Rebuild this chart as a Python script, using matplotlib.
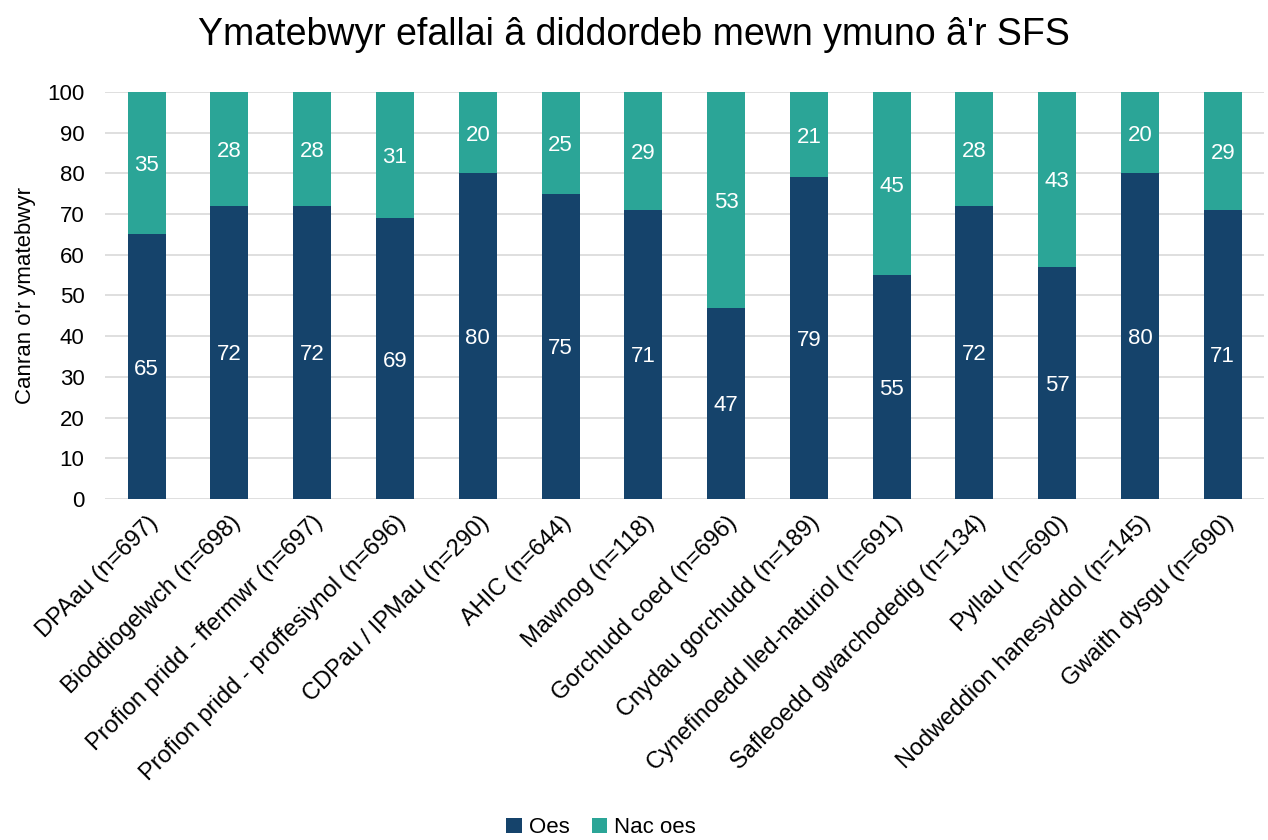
import matplotlib.pyplot as plt
import numpy as np

plt.rcParams['font.family'] = ['Liberation Sans', 'DejaVu Sans']

categories = ['DPAau (n=697)', 'Bioddiogelwch (n=698)', 'Profion pridd - ffermwr (n=697)',
              'Profion pridd - proffesiynol (n=696)', 'CDPau / IPMau (n=290)', 'AHIC (n=644)',
              'Mawnog (n=118)', 'Gorchudd coed (n=696)', 'Cnydau gorchudd (n=189)',
              'Cynefinoedd lled-naturiol (n=691)', 'Safleoedd gwarchodedig (n=134)',
              'Pyllau (n=690)', 'Nodweddion hanesyddol (n=145)', 'Gwaith dysgu (n=690)']
oes = [65, 72, 72, 69, 80, 75, 71, 47, 79, 55, 72, 57, 80, 71]
nac_oes = [35, 28, 28, 31, 20, 25, 29, 53, 21, 45, 28, 43, 20, 29]

c_oes = '#15436B'
c_nac = '#2BA597'

fig = plt.figure(figsize=(12.68, 8.4), dpi=100)
ax = fig.add_axes([0.083, 0.406, 0.914, 0.4845])

x = np.arange(len(categories))
w = 0.46
b1 = ax.bar(x, oes, w, color=c_oes, label='Oes', zorder=3)
b2 = ax.bar(x, nac_oes, w, bottom=oes, color=c_nac, label='Nac oes', zorder=3)

# value labels in the middle of each segment
for i in range(len(x)):
    ax.text(x[i], oes[i] / 2, str(oes[i]), ha='center', va='center_baseline', color='white', fontsize=16, zorder=4)
    ax.text(x[i], oes[i] + nac_oes[i] / 2, str(nac_oes[i]), ha='center', va='center_baseline', color='white', fontsize=16, zorder=4)

ax.set_xlim(-0.5, len(x) - 0.5)
ax.set_ylim(0, 100)
ax.set_yticks(range(0, 101, 10))
ax.yaxis.grid(True, color='#D9D9D9', linewidth=1.2, zorder=0)
ax.set_axisbelow(True)
for s in ax.spines.values():
    s.set_visible(False)
ax.tick_params(axis='y', length=0, labelsize=16, pad=15)
ax.tick_params(axis='x', length=0, labelsize=17, pad=9)
ax.set_xticks(x)
ax.set_xticklabels(categories, rotation=45, ha='right', rotation_mode='anchor', fontsize=17)
ax.set_ylabel("Canran o'r ymatebwyr", fontsize=16, labelpad=8)

fig.suptitle("Ymatebwyr efallai â diddordeb mewn ymuno â'r SFS", fontsize=27, y=0.98)
fig.legend(handles=[b1, b2], loc='lower center', bbox_to_anchor=(0.474, -0.022), ncol=2,
           frameon=False, fontsize=16, handlelength=0.7, handleheight=0.7, handletextpad=0.3,
           columnspacing=1.0)

fig.savefig('out.png', dpi=100)
